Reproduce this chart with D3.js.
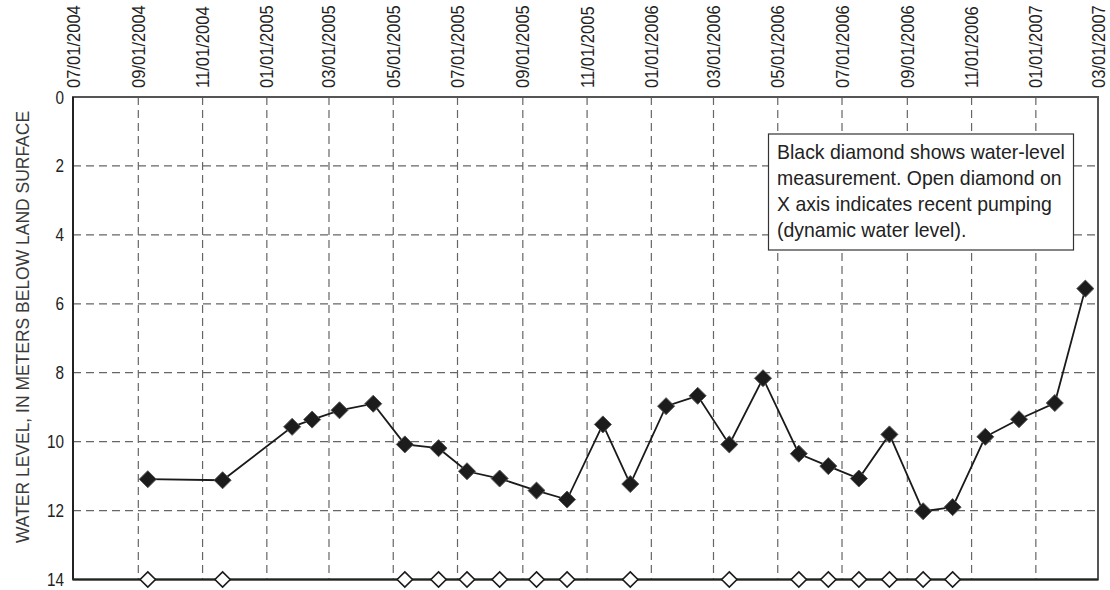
<!DOCTYPE html>
<html>
<head>
<meta charset="utf-8">
<script src="https://cdn.jsdelivr.net/npm/d3@7"></script>
<style>
  body { margin: 0; background: #fff; }
  svg text { font-family: "Liberation Sans", Arial, sans-serif; fill: #222; }
</style>
</head>
<body>
<svg id="chart" width="1110" height="590"></svg>
<script>
// tick dates along the top
const tickLabels = ["07/01/2004","09/01/2004","11/01/2004","01/01/2005","03/01/2005","05/01/2005",
  "07/01/2005","09/01/2005","11/01/2005","01/01/2006","03/01/2006","05/01/2006",
  "07/01/2006","09/01/2006","11/01/2006","01/01/2007","03/01/2007"];
const yTicks = [0, 2, 4, 6, 8, 10, 12, 14];

// measurements (meters below land surface)
const measDates = ["2004-09-10","2004-11-20","2005-01-25","2005-02-13","2005-03-11","2005-04-12",
  "2005-05-12","2005-06-13","2005-07-10","2005-08-10","2005-09-14","2005-10-13","2005-11-16",
  "2005-12-12","2006-01-15","2006-02-14","2006-03-16","2006-04-17","2006-05-21","2006-06-18",
  "2006-07-17","2006-08-15","2006-09-16","2006-10-14","2006-11-14","2006-12-16","2007-01-19","2007-02-17"];
const waterLevel = [11.09,11.12,9.57,9.36,9.09,8.9,10.08,10.19,10.86,11.07,11.42,11.68,9.5,
  11.23,8.97,8.67,10.08,8.16,10.35,10.71,11.07,9.79,12.02,11.9,9.86,9.35,8.88,5.56];

// open diamonds: recent pumping
const pumpingDates = ["2004-09-10","2004-11-20","2005-05-12","2005-06-13","2005-07-10","2005-08-10",
  "2005-09-14","2005-10-13","2005-12-12","2006-03-16","2006-05-21","2006-06-18","2006-07-17",
  "2006-08-15","2006-09-16","2006-10-14"];

const noteLines = ["Black diamond shows water-level", "measurement. Open diamond on",
  "X axis indicates recent pumping", "(dynamic water level)."];

const parseTick = d3.timeParse("%m/%d/%Y");
const parseIso = d3.timeParse("%Y-%m-%d");

const plotLeft = 73, plotRight = 1098, plotTop = 97, plotBottom = 579.5;

const svg = d3.select("#chart");

const x = d3.scaleTime()
    .domain([parseTick(tickLabels[0]), parseTick(tickLabels[tickLabels.length - 1])])
    .range([plotLeft, plotRight]);

const y = d3.scaleLinear()
    .domain([0, 14])
    .range([plotTop, plotBottom]);

const tickDates = tickLabels.map(parseTick);

// grid lines
const grid = svg.append("g")
    .attr("stroke", "#666")
    .attr("stroke-width", 1.2)
    .attr("stroke-dasharray", "8,5");

grid.selectAll("line.v")
    .data(tickDates.slice(1, -1))
    .enter().append("line")
    .attr("class", "v")
    .attr("x1", d => x(d)).attr("x2", d => x(d))
    .attr("y1", plotTop).attr("y2", plotBottom);

grid.selectAll("line.h")
    .data(yTicks.slice(1, -1))
    .enter().append("line")
    .attr("class", "h")
    .attr("x1", plotLeft).attr("x2", plotRight)
    .attr("y1", d => y(d)).attr("y2", d => y(d));

// frame
svg.append("rect")
    .attr("x", plotLeft).attr("y", plotTop)
    .attr("width", plotRight - plotLeft).attr("height", plotBottom - plotTop)
    .attr("fill", "none")
    .attr("stroke", "#555")
    .attr("stroke-width", 2);

svg.append("line")
    .attr("x1", plotLeft).attr("x2", plotRight)
    .attr("y1", plotBottom).attr("y2", plotBottom)
    .attr("stroke", "#222").attr("stroke-width", 2);
svg.append("line")
    .attr("x1", plotLeft).attr("x2", plotLeft)
    .attr("y1", plotTop).attr("y2", plotBottom)
    .attr("stroke", "#222").attr("stroke-width", 2);

// top date labels (squeezed to look condensed)
svg.append("g").selectAll("text")
    .data(tickDates)
    .enter().append("text")
    .attr("transform", d => "translate(" + (x(d) + 6.5) + "," + 88 + ") rotate(-90) scale(0.92,1)")
    .attr("font-size", 18)
    .text((d, i) => tickLabels[i]);

// y tick labels (narrow digits)
svg.append("g").selectAll("text")
    .data(yTicks)
    .enter().append("text")
    .attr("transform", d => "translate(64," + (y(d) + 6.5) + ") scale(0.85,1)")
    .attr("text-anchor", "end")
    .attr("font-size", 18)
    .text(d => d);

// y axis title
svg.append("text")
    .attr("transform", "translate(" + 29 + "," + 327 + ") rotate(-90) scale(0.92,1)")
    .attr("text-anchor", "middle")
    .attr("font-size", 19)
    .style("fill", "#3a3a3a")
    .text("WATER LEVEL, IN METERS BELOW LAND SURFACE");

// note box
const note = svg.append("g");
note.append("rect")
    .attr("x", 768.5).attr("y", 134)
    .attr("width", 305).attr("height", 116)
    .attr("fill", "#fff")
    .attr("stroke", "#333")
    .attr("stroke-width", 1.2);
note.selectAll("text")
    .data(noteLines)
    .enter().append("text")
    .attr("transform", (d, i) => "translate(777," + (159 + i * 26) + ") scale(0.95,1)")
    .attr("font-size", 20.5)
    .text(d => d);

// measurement line and diamonds
const pts = measDates.map((d, i) => ({ date: parseIso(d), value: waterLevel[i] }));

svg.append("path")
    .datum(pts)
    .attr("fill", "none")
    .attr("stroke", "#1a1a1a")
    .attr("stroke-width", 1.8)
    .attr("d", d3.line().x(d => x(d.date)).y(d => y(d.value)));

const diamond = d3.symbol().type(d3.symbolDiamond2).size(185);

svg.append("g").selectAll("path")
    .data(pts)
    .enter().append("path")
    .attr("d", diamond)
    .attr("transform", d => "translate(" + x(d.date) + "," + y(d.value) + ")")
    .attr("fill", "#1c1c1c")
    .attr("stroke", "#555")
    .attr("stroke-width", 1);

// pumping diamonds on the x axis
svg.append("g").selectAll("path")
    .data(pumpingDates.map(parseIso))
    .enter().append("path")
    .attr("d", d3.symbol().type(d3.symbolDiamond2).size(150))
    .attr("transform", d => "translate(" + x(d) + "," + plotBottom + ")")
    .attr("fill", "#fff")
    .attr("stroke", "#1a1a1a")
    .attr("stroke-width", 1.6);
</script>
</body>
</html>
